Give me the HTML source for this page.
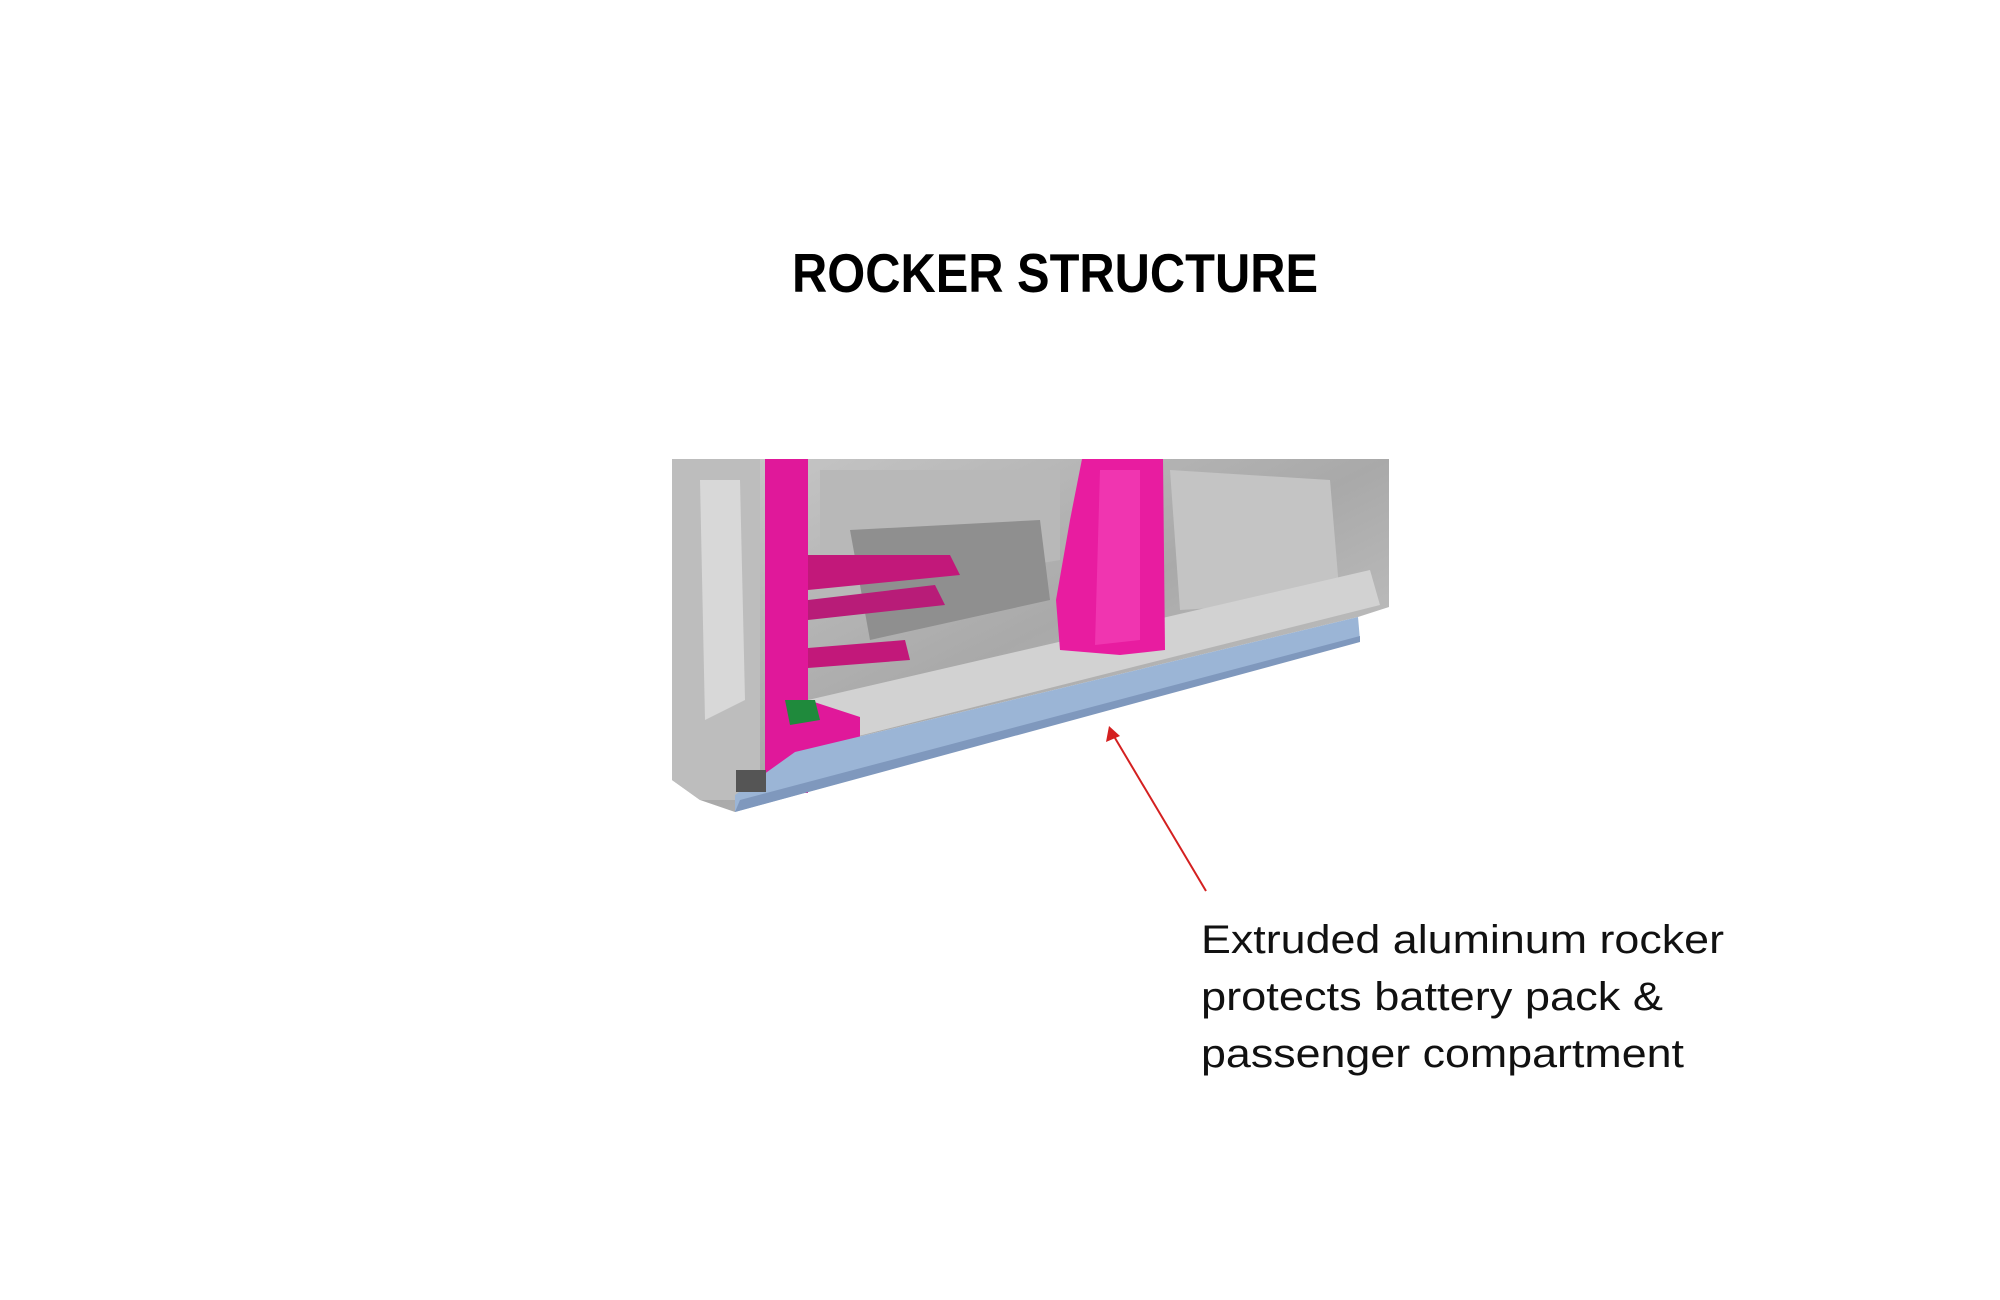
<!DOCTYPE html>
<html><head><meta charset="utf-8"><style>
html,body{margin:0;padding:0;background:#fff;width:2000px;height:1300px;overflow:hidden}
</style></head><body>
<svg width="2000" height="1300" viewBox="0 0 2000 1300" xmlns="http://www.w3.org/2000/svg">
<defs>
<linearGradient id="g" x1="0" y1="0" x2="1" y2="1">
<stop offset="0" stop-color="#c9c9c9"/><stop offset="0.5" stop-color="#a9a9a9"/><stop offset="1" stop-color="#cfcfcf"/>
</linearGradient>
</defs>
<text x="1055" y="292" font-family="Liberation Sans, sans-serif" font-weight="bold" font-size="55" text-anchor="middle" textLength="526" lengthAdjust="spacingAndGlyphs" fill="#000">ROCKER STRUCTURE</text>
<polygon points="672,459 1389,459 1389,607 1358,617 795,752 735,795 735,812 700,800 672,780" fill="url(#g)"/>
<polygon points="672,459 760,459 760,800 700,800 672,780" fill="#bdbdbd"/>
<polygon points="700,480 740,480 745,700 705,720" fill="#d8d8d8"/>
<polygon points="820,470 1060,470 1060,560 820,600" fill="#b8b8b8"/>
<polygon points="850,530 1040,520 1050,600 870,640" fill="#8f8f8f"/>
<polygon points="1170,470 1330,480 1340,600 1180,610" fill="#c4c4c4"/>
<polygon points="808,700 1370,570 1380,605 795,752" fill="#d2d2d2"/>
<polygon points="808,555 950,555 960,575 808,590" fill="#c2187a"/>
<polygon points="808,600 935,585 945,605 808,620" fill="#b81c78"/>
<polygon points="808,648 905,640 910,660 808,668" fill="#c2187a"/>
<polygon points="765,459 808,459 808,700 860,717 860,760 808,790 808,793 765,793" fill="#e0189a"/>
<polygon points="785,700 815,700 820,720 790,725" fill="#1f8a3c"/>
<polygon points="1082,459 1163,459 1165,650 1120,655 1060,650 1056,600 1070,520" fill="#e81ca0"/>
<polygon points="1100,470 1140,470 1140,640 1095,645" fill="#f035b0"/>
<polygon points="795,752 1358,617 1360,640 735,812 735,795" fill="#9bb5d6"/>
<polygon points="740,800 1360,636 1360,642 735,812" fill="#7f98bd"/>
<rect x="736" y="770" width="30" height="22" fill="#555"/>
<line x1="1206" y1="891" x2="1112" y2="733" stroke="#d42020" stroke-width="2"/>
<polygon points="1109,726 1106,742 1120,736" fill="#d42020"/>
<g font-family="Liberation Sans, sans-serif" font-size="40" fill="#111">
<text x="1201" y="953" textLength="523" lengthAdjust="spacingAndGlyphs">Extruded aluminum rocker</text>
<text x="1201" y="1010" textLength="462" lengthAdjust="spacingAndGlyphs">protects battery pack &amp;</text>
<text x="1201" y="1067" textLength="483" lengthAdjust="spacingAndGlyphs">passenger compartment</text>
</g>
</svg>
</body></html>
